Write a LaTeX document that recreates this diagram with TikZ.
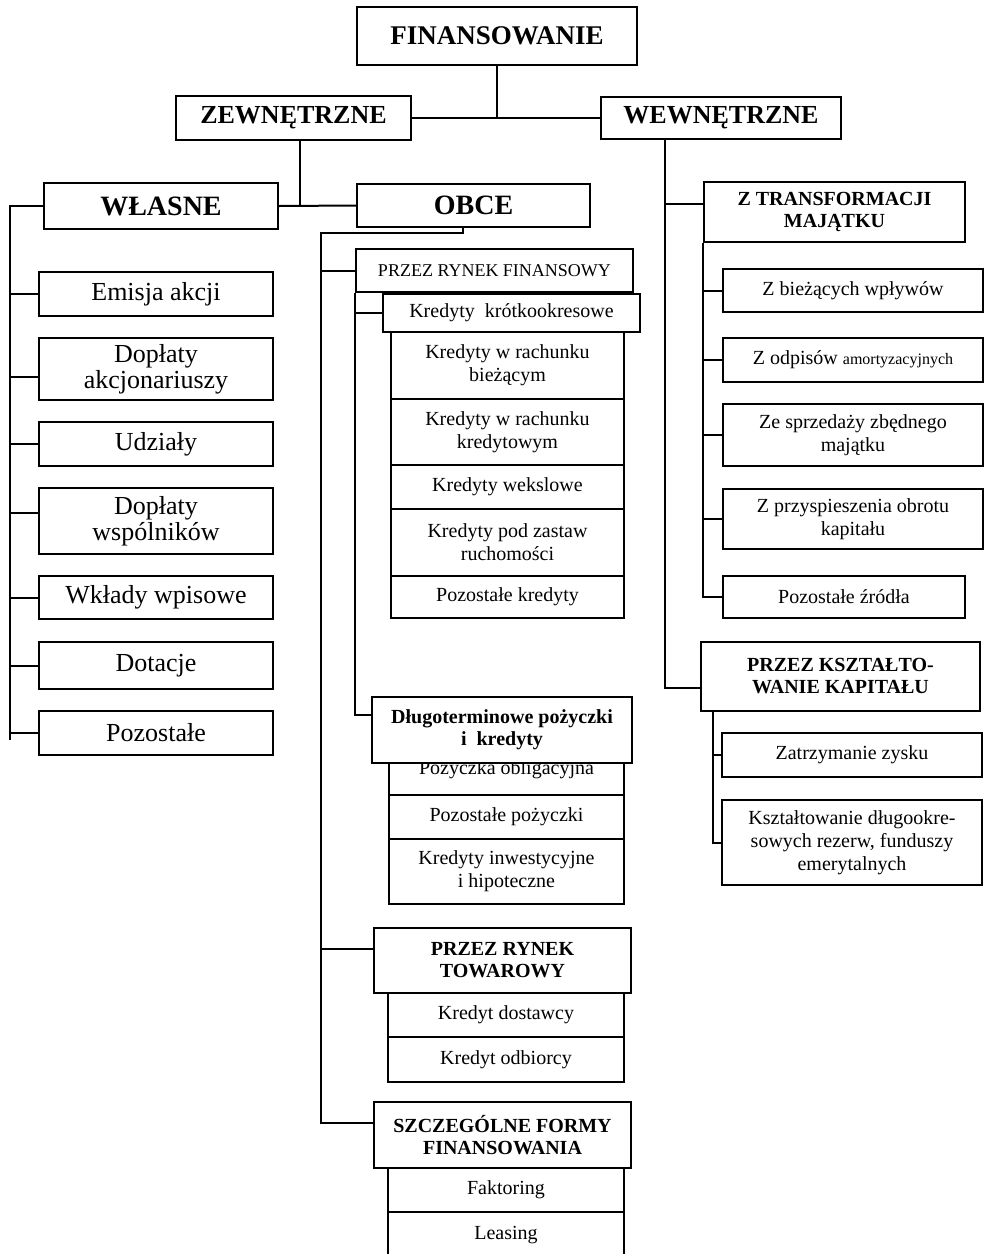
\documentclass[tikz,border=0pt]{standalone}
\usepackage{fontspec}
\setmainfont{Liberation Serif}
\usepackage{tikz}

\begin{document}
\begin{tikzpicture}[x=1pt,y=-1pt,line width=2pt,
  box/.style={draw,fill=white,align=center,inner sep=0pt},
  hbig/.style={box,font=\fontsize{26}{28}\selectfont\bfseries},
  head/.style={box,font=\fontsize{20}{22}\selectfont\bfseries},
  lbox/.style={box,minimum width=234pt,font=\fontsize{26}{26}\selectfont},
  mbox/.style={box,font=\fontsize{20}{23}\selectfont}]
\useasboundingbox (0,0) rectangle (985,1254);
% top levels
\path
(497,36)      node[hbig,minimum width=280pt,minimum height=58pt,font=\fontsize{27}{29}\selectfont\bfseries] (fin) {FINANSOWANIE}
(293.5,118)   node[hbig,minimum width=235pt,minimum height=44pt] (zew) {ZEWNĘTRZNE}
(721,118)     node[hbig,minimum width=240pt,minimum height=42pt] (wew) {WEWNĘTRZNE}
(161,206)     node[hbig,minimum width=234pt,minimum height=46pt,font=\fontsize{28}{30}\selectfont\bfseries] (wla) {WŁASNE}
(473.5,205.5) node[hbig,minimum width=233pt,minimum height=43pt,font=\fontsize{28}{30}\selectfont\bfseries] (obc) {OBCE};
% left column
\path
(156,294)   node[lbox,minimum height=44pt] (e1) {Emisja akcji}
(156,369)   node[lbox,minimum height=62pt] (e2) {Dopłaty\\akcjonariuszy}
(156,444)   node[lbox,minimum height=44pt] (e3) {Udziały}
(156,521)   node[lbox,minimum height=66pt] (e4) {Dopłaty\\wspólników}
(156,597.5) node[lbox,minimum height=43pt] (e5) {Wkłady wpisowe}
(156,665.5) node[lbox,minimum height=47pt] (e6) {Dotacje}
(156,733)   node[lbox,minimum height=44pt] (e7) {Pozostałe};
% middle column
\path
(494.5,270.5) node[box,minimum width=277pt,minimum height=43pt,font=\fontsize{18}{20}\selectfont] (prf) {PRZEZ RYNEK FINANSOWY}
(511.5,313)   node[mbox,minimum width=257pt,minimum height=38pt] (kk) {Kredyty\ \ krótkookresowe}
(507.5,365.5) node[mbox,minimum width=233pt,minimum height=67pt] (k1) {Kredyty w rachunku\\bieżącym}
(507.5,432)   node[mbox,minimum width=233pt,minimum height=66pt] (k2) {Kredyty w rachunku\\kredytowym}
(507.5,487)   node[mbox,minimum width=233pt,minimum height=44pt] (k3) {Kredyty wekslowe}
(507.5,542.5) node[mbox,minimum width=233pt,minimum height=67pt] (k4) {Kredyty pod zastaw\\ruchomości}
(507.5,597)   node[mbox,minimum width=233pt,minimum height=42pt] (k5) {Pozostałe kredyty}
(506.5,770)   node[mbox,minimum width=235pt,minimum height=50pt] (p1) {Pożyczka obligacyjna}
(506.5,817)   node[mbox,minimum width=235pt,minimum height=44pt] (p2) {Pozostałe pożyczki}
(506.5,871.5) node[mbox,minimum width=235pt,minimum height=65pt] (p3) {Kredyty inwestycyjne\\i hipoteczne}
(502,730)     node[head,minimum width=260pt,minimum height=66pt] (dl) {Długoterminowe pożyczki\\i\ \ kredyty}
(502.5,960.5) node[head,minimum width=257pt,minimum height=65pt] (tow) {PRZEZ RYNEK\\TOWAROWY}
(506,1015)    node[mbox,minimum width=236pt,minimum height=44pt] (t1) {Kredyt dostawcy}
(506,1059.5)  node[mbox,minimum width=236pt,minimum height=45pt] (t2) {Kredyt odbiorcy}
(502.5,1135)  node[head,minimum width=257pt,minimum height=66pt] (szf) {SZCZEGÓLNE FORMY\\FINANSOWANIA}
(506,1190)    node[mbox,minimum width=236pt,minimum height=44pt] (s1) {Faktoring}
(506,1235)    node[mbox,minimum width=236pt,minimum height=46pt] (s2) {Leasing};
% right column
\path
(834.5,212) node[head,minimum width=261pt,minimum height=60pt] (ztr) {Z TRANSFORMACJI\\MAJĄTKU}
(853,290.5) node[mbox,minimum width=260pt,minimum height=43pt] (z1) {Z bieżących wpływów}
(853,360)   node[mbox,minimum width=260pt,minimum height=44pt] (z2) {Z odpisów {\fontsize{16}{16}\selectfont amortyzacyjnych}}
(853,435)   node[mbox,minimum width=260pt,minimum height=62pt] (z3) {Ze sprzedaży zbędnego\\majątku}
(853,519)   node[mbox,minimum width=260pt,minimum height=60pt] (z4) {Z przyspieszenia obrotu\\kapitału}
(844,597)   node[mbox,minimum width=242pt,minimum height=42pt] (z5) {Pozostałe źródła}
(840.5,676.5) node[head,minimum width=279pt,minimum height=69pt] (ksz) {PRZEZ KSZTAŁTO-\\WANIE KAPITAŁU}
(852,755)   node[mbox,minimum width=260pt,minimum height=44pt] (q1) {Zatrzymanie zysku}
(852,842.5) node[mbox,minimum width=260pt,minimum height=85pt] (q2) {Kształtowanie długookre-\\sowych rezerw, funduszy\\emerytalnych};

% connectors, top
\draw (fin.south) -- (fin.south |- zew.east);
\draw (zew.east) -- (wew.west);
\draw ([xshift=6pt]zew.south) -- ([xshift=6pt]zew.south |- wla.east);
\draw (wla.east) -- (obc.west);
% left column
\coordinate (lb) at (10,740);
\draw (wla.west) -| (lb);
\draw (e1.west) -- (e1.west -| lb);
\draw ([yshift=-8pt]e2.west) -- ([yshift=-8pt]e2.west -| lb);
\draw (e3.west) -- (e3.west -| lb);
\draw ([yshift=8pt]e4.west) -- ([yshift=8pt]e4.west -| lb);
\draw (e5.west) -- (e5.west -| lb);
\draw (e6.west) -- (e6.west -| lb);
\draw (e7.west) -- (e7.west -| lb);
% middle column
\coordinate (mb) at (321,233);
\path ([yshift=12pt]tow.west) coordinate (towin);
\path ([yshift=12pt]szf.west) coordinate (szin);
\draw ([xshift=-11pt]obc.south) |- (mb) |- (szin);
\draw (prf.west) -- (prf.west -| mb);
\draw (towin) -- (towin -| mb);
\draw (prf.south west) |- ([yshift=15pt]dl.west);
\draw (kk.west) -- (kk.west -| prf.south west);
% right column
\coordinate (rb) at ([xshift=-56pt]wew.south);
\draw (rb) |- ([yshift=-11pt]ksz.west);
\draw ([yshift=8pt]ztr.west) -- ++(-39,0);
\draw (ztr.south west) |- (z5.west);
\draw (z1.west) -- (z1.west -| ztr.south west);
\draw (z2.west) -- (z2.west -| ztr.south west);
\draw (z3.west) -- (z3.west -| ztr.south west);
\draw (z4.west) -- (z4.west -| ztr.south west);
\coordinate (kb) at ([xshift=13pt]ksz.south west);
\draw (kb) |- (q2.west);
\draw (q1.west) -- (q1.west -| kb);
\end{tikzpicture}
\end{document}
